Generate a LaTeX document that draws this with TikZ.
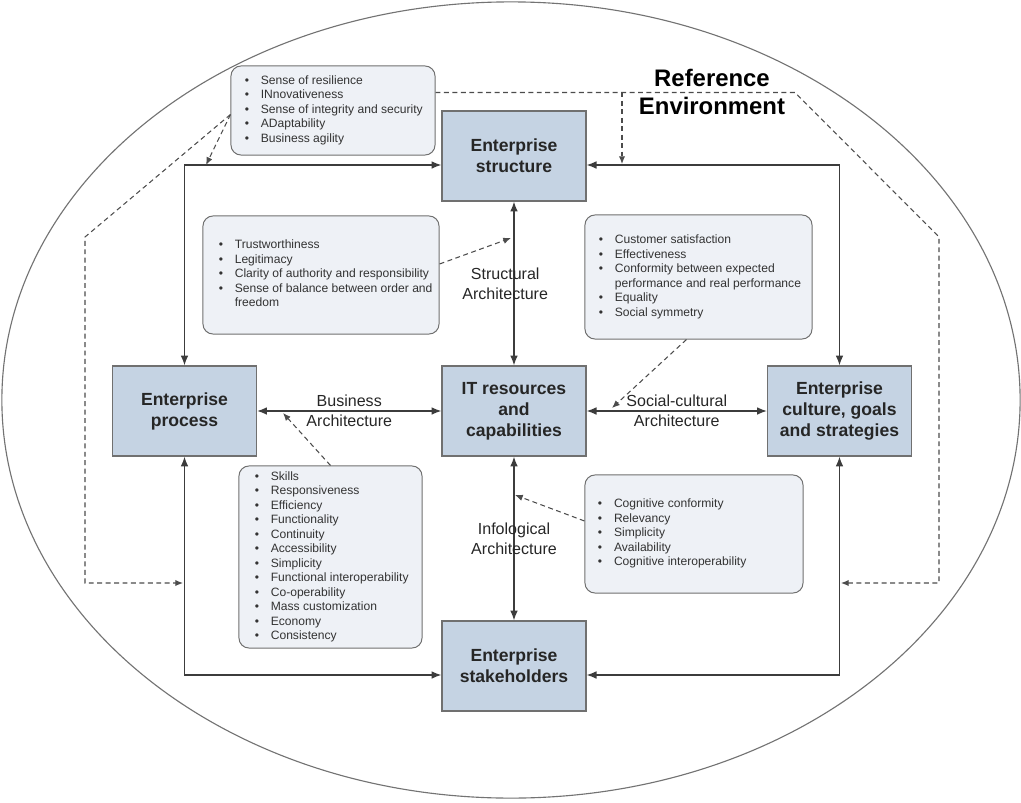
\documentclass[tikz,border=0pt]{standalone}
\usepackage{fontspec}
\setmainfont{Liberation Sans}
\usetikzlibrary{arrows.meta,positioning}

\definecolor{boxblue}{RGB}{197,211,227}
\definecolor{listgray}{RGB}{238,241,246}
\definecolor{edgegray}{RGB}{112,112,112}
\definecolor{linegray}{RGB}{60,60,60}

\newcommand{\itemrows}[1]{\begin{tabular}{@{}l@{\hspace{8.4pt}}l@{}}#1\end{tabular}}

\begin{document}
\begin{tikzpicture}
		[
			x=0.025cm, y=-0.025cm,
			mainbox/.style={rectangle, draw=edgegray, line width=0.9pt, fill=boxblue, minimum width=3.6cm, minimum height=2.25cm, align=center, font=\fontsize{12.5}{15}\selectfont\bfseries, text=black!85},
			listbox/.style={rectangle, rounded corners=0.25cm, draw=edgegray, line width=0.7pt, fill=listgray},
			listtext/.style={anchor=west, inner sep=0pt, font=\fontsize{8.6}{10.3}\selectfont, text=black!80},
			archlabel/.style={align=center, font=\fontsize{11.4}{14.2}\selectfont, text=black!85},
			conn/.style={draw=linegray, line width=0.9pt, {Latex[length=7pt,width=5.5pt]}-{Latex[length=7pt,width=5.5pt]}},
			dashconn/.style={draw=black!70, line width=0.75pt, dash pattern=on 3.5pt off 2.5pt, -{Latex[length=5.5pt,width=4.5pt]}},
			envline/.style={draw=black!55, line width=0.8pt},
		]

		\useasboundingbox (0,0) rectangle (1021,803);

		% Environment
		\draw[envline] (511,400) ellipse [x radius=12.725cm, y radius=9.95cm];
		\node[font=\fontsize{17}{19.8}\selectfont\bfseries, align=center] (refenv) at (712,92) {Reference\\Environment};

		% Enterprise boxes
		\node[mainbox] (struct) at (514,156) {Enterprise\\structure};
		\node[mainbox] (itres) at (514,411) {IT resources\\and\\capabilities};
		\node[mainbox] (proc) at (184.5,411) {Enterprise\\process};
		\node[mainbox] (cult) at (839.5,411) {Enterprise\\culture, goals\\and strategies};
		\node[mainbox] (stake) at (514,666) {Enterprise\\stakeholders};

		% Quality boxes
		\foreach \name/\x/\y/\w/\h in
		{
			resil/333/110.5/5.1/2.225,
			trust/321/275/5.9/2.95,
			custom/698.5/277/5.675/3.1,
			skill/330.5/557/4.575/4.55,
			cognit/694/534/5.45/2.95
		}
			\node[listbox, minimum width=\w cm, minimum height=\h cm] (\name) at (\x,\y) {};

		\node[listtext] (resiltext) at ([xshift=0.35cm]resil.west) {\itemrows{
			\textbullet & Sense of resilience\\
			\textbullet & INnovativeness\\
			\textbullet & Sense of integrity and security\\
			\textbullet & ADaptability\\
			\textbullet & Business agility}};
		\node[listtext] (trusttext) at ([xshift=0.4cm]trust.west) {\itemrows{
			\textbullet & Trustworthiness\\
			\textbullet & Legitimacy\\
			\textbullet & Clarity of authority and responsibility\\
			\textbullet & Sense of balance between order and\\
			& freedom}};
		\node[listtext] (customtext) at ([xshift=0.35cm]custom.west) {\itemrows{
			\textbullet & Customer satisfaction\\
			\textbullet & Effectiveness\\
			\textbullet & Conformity between expected\\
			& performance and real performance\\
			\textbullet & Equality\\
			\textbullet & Social symmetry}};
		\node[listtext] (skilltext) at ([xshift=0.4cm]skill.west) {\itemrows{
			\textbullet & Skills\\
			\textbullet & Responsiveness\\
			\textbullet & Efficiency\\
			\textbullet & Functionality\\
			\textbullet & Continuity\\
			\textbullet & Accessibility\\
			\textbullet & Simplicity\\
			\textbullet & Functional interoperability\\
			\textbullet & Co-operability\\
			\textbullet & Mass customization\\
			\textbullet & Economy\\
			\textbullet & Consistency}};
		\node[listtext] (cognittext) at ([xshift=0.33cm]cognit.west) {\itemrows{
			\textbullet & Cognitive conformity\\
			\textbullet & Relevancy\\
			\textbullet & Simplicity\\
			\textbullet & Availability\\
			\textbullet & Cognitive interoperability}};

		% Architectures
		\draw[conn] (struct) -- (itres) node[midway, archlabel, xshift=-0.22cm] (structlbl) {Structural\\Architecture};
		\draw[conn] (itres) -- (stake) node[midway, archlabel] (infolbl) {Infological\\Architecture};
		\draw[conn] (proc) -- (itres) node[midway, archlabel] (busilbl) {Business\\Architecture};
		\draw[conn] (itres) -- (cult) node[midway, archlabel] (soclbl) {Social-cultural\\Architecture};

		% Outer loop
		\draw[conn] (proc.north) |- ([yshift=-0.225cm]struct.west);
		\draw[conn] (cult.north) |- ([yshift=-0.225cm]struct.east);
		\draw[conn] (proc.south) |- ([yshift=-0.225cm]stake.west);
		\draw[conn] (cult.south) |- ([yshift=-0.225cm]stake.east);

		% Influences
		\coordinate (resilL) at ([yshift=-0.1cm]resil.west);
		\coordinate (resilR) at ([yshift=0.45cm]resil.east);
		\coordinate (tipA) at (206,165);
		\coordinate (bendA) at (85,237);
		\coordinate (cornA) at (85,583);
		\coordinate (tipB) at (183,583);
		\coordinate (cornC) at (795,92.5);
		\coordinate (bendC) at (939,237);
		\coordinate (cornD) at (939,583);
		\coordinate (tipD) at (841,583);
		\coordinate (tipE) at (622,164);
		\coordinate (tipF) at (511,238);
		\coordinate (tipG) at (612,408);
		\coordinate (tipH) at (283,413);
		\coordinate (tipJ) at (515,495);

		\draw[dashconn] (resilL) -- (tipA);
		\draw[dashconn] (resilL) -- (bendA) -- (cornA) -- (tipB);
		\draw[dashconn] (resilR) -- (cornC) -- (bendC) -- (cornD) -- (tipD);
		\draw[dashconn] (resilR -| tipE) -- (tipE);
		\draw[dashconn] ([yshift=0.275cm]trust.east) -- (tipF);
		\draw[dashconn] ([xshift=-0.3cm]custom.south) -- (tipG);
		\draw[dashconn] (skill.north) -- (tipH);
		\draw[dashconn] ([yshift=0.325cm]cognit.west) -- (tipJ);

		\end{tikzpicture}
\end{document}
